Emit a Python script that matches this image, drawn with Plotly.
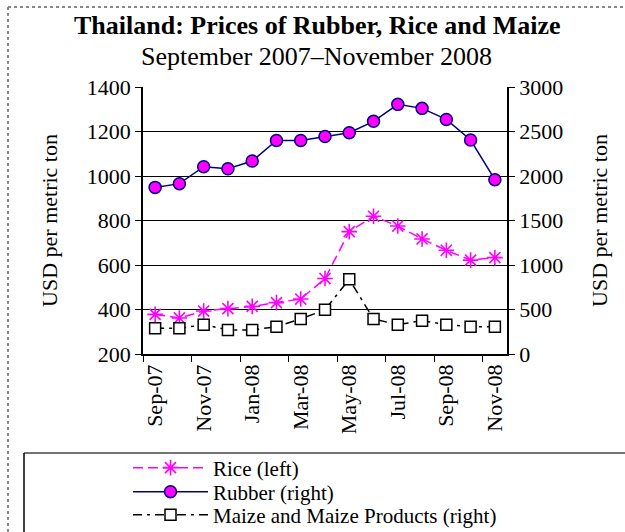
import plotly.graph_objects as go

months = ["Sep-07", "Oct-07", "Nov-07", "Dec-07", "Jan-08", "Feb-08", "Mar-08", "Apr-08",
          "May-08", "Jun-08", "Jul-08", "Aug-08", "Sep-08", "Oct-08", "Nov-08"]
rice = [378, 362, 393, 404, 414, 431, 447, 539, 750, 819, 775, 717, 666, 622, 633]
rubber = [1872, 1914, 2105, 2082, 2168, 2400, 2400, 2445, 2487, 2614, 2805, 2760, 2636, 2404, 1959]
maize = [288, 288, 330, 270, 270, 307, 393, 498, 839, 393, 330, 374, 330, 307, 307]

W, H = 625, 532
L, R, T, B = 143, 507, 87, 354
def px(x): return (x - L) / (R - L)
def py(y): return (B - y) / (B - T)

FONT = "Liberation Serif"

fig = go.Figure()
fig.add_trace(go.Scatter(x=months, y=rice, name="Rice (left)", mode="lines+markers", legend="legend",
                         line=dict(color="#FF00FF", width=1.5, dash="10px,5px"),
                         marker=dict(symbol="asterisk-open", size=13, color="#FF00FF",
                                     line=dict(color="#FF00FF", width=1.6))))
fig.add_trace(go.Scatter(x=months, y=rubber, name="Rubber (right)", mode="lines+markers", yaxis="y2",
                         legend="legend2",
                         line=dict(color="#000080", width=1.5),
                         marker=dict(symbol="circle", size=12, color="#FF00FF",
                                     line=dict(color="#000080", width=1.5))))
fig.add_trace(go.Scatter(x=months, y=maize, name="Maize and Maize Products (right)", mode="lines+markers",
                         yaxis="y2", legend="legend3",
                         line=dict(color="black", width=1.5, dash="9px,5px,3px,5px"),
                         marker=dict(symbol="square", size=11, color="white",
                                     line=dict(color="black", width=1.5))))

shapes = [
    # outer gray frame
    dict(type="line", xref="paper", yref="paper", x0=px(8), x1=px(640), y0=py(7), y1=py(7),
         line=dict(color="#888888", width=2, dash="dot")),
    dict(type="line", xref="paper", yref="paper", x0=px(8), x1=px(8), y0=py(7), y1=py(545),
         line=dict(color="#888888", width=2, dash="dot")),
    # legend box
    dict(type="line", xref="paper", yref="paper", x0=px(24), x1=px(640), y0=py(453), y1=py(453),
         line=dict(color="#444444", width=1.5)),
    dict(type="line", xref="paper", yref="paper", x0=px(24), x1=px(24), y0=py(453), y1=py(545),
         line=dict(color="black", width=1.5)),
]

annotations = [
    dict(text="<b>Thailand: Prices of Rubber, Rice and Maize</b>", xref="paper", yref="paper",
         x=px(317), y=py(25), showarrow=False, font=dict(family=FONT, size=26, color="black"),
         xanchor="center", yanchor="middle"),
    dict(text="September 2007–November 2008", xref="paper", yref="paper",
         x=px(316), y=py(57), showarrow=False, font=dict(family=FONT, size=26, color="black"),
         xanchor="center", yanchor="middle"),
]

def leg(yc):
    return dict(x=px(128), y=py(yc), xanchor="left", yanchor="middle", bgcolor="rgba(0,0,0,0)",
                font=dict(family=FONT, size=21), itemwidth=75)

fig.update_layout(
    width=W, height=H,
    margin=dict(l=L, r=W - R, t=T, b=H - B, pad=0, autoexpand=False),
    paper_bgcolor="white", plot_bgcolor="white",
    font=dict(family=FONT, size=21, color="black"),
    showlegend=True,
    legend=leg(468), legend2=leg(492), legend3=leg(515),
    shapes=shapes, annotations=annotations,
    xaxis=dict(type="category", categoryorder="array", categoryarray=months,
               tickmode="linear", tick0=0, dtick=2, tickson="boundaries",
               ticks="outside", ticklen=6, tickcolor="black", tickangle=-90,
               showline=True, linecolor="black", linewidth=1.5, mirror=False,
               showgrid=False, tickfont=dict(family=FONT, size=22), range=[-0.5, 14.5]),
    yaxis=dict(range=[200, 1400], dtick=200, tick0=200, ticks="outside", ticklen=6, tickcolor="black",
               showline=True, linecolor="black", linewidth=1.5, showgrid=True, gridcolor="black",
               gridwidth=1, zeroline=False, tickfont=dict(family=FONT, size=22),
               title=dict(text="USD per metric ton", font=dict(family=FONT, size=22), standoff=23)),
    yaxis2=dict(range=[0, 3000], dtick=500, tick0=0, overlaying="y", side="right",
                ticks="outside", ticklen=6, tickcolor="black",
                showline=True, linecolor="black", linewidth=1.5, showgrid=False, zeroline=False,
                tickfont=dict(family=FONT, size=22),
                title=dict(text="USD per metric ton", font=dict(family=FONT, size=22), standoff=29)),
)

fig.write_html("out.html", config={"displayModeBar": False},
               post_script="document.body.style.margin='0';document.body.style.overflow='hidden';")
